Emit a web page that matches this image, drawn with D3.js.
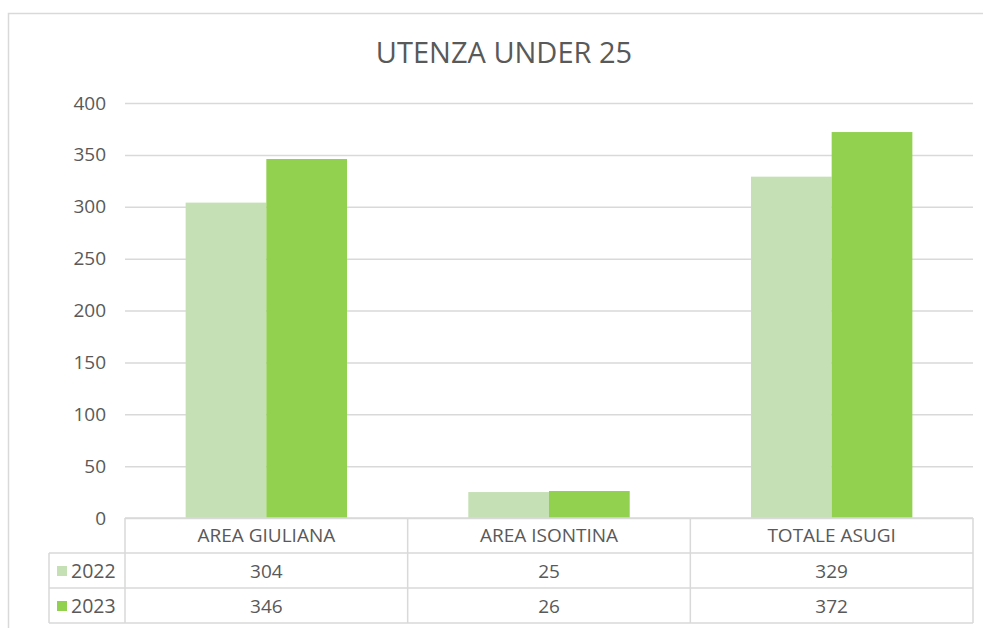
<!DOCTYPE html>
<html><head><meta charset="utf-8">
<script src="https://cdn.jsdelivr.net/npm/d3@7"></script>
<style>
html,body{margin:0;padding:0;background:#fff;}
svg{display:block;font-family:"Open Sans",sans-serif;}
</style></head>
<body><svg id="c" width="983" height="628"></svg>
<script>
const title = "UTENZA UNDER 25";
const categories = ["AREA GIULIANA", "AREA ISONTINA", "TOTALE ASUGI"];
const seriesNames = ["2022", "2023"];
const values2022 = [304, 25, 329];
const values2023 = [346, 26, 372];
const yTicks = [0, 50, 100, 150, 200, 250, 300, 350, 400];
const colors = ["#c5e0b4", "#92d050"];

(function () {
const series = [values2022, values2023];
const svg = d3.select("#c");
const textColor = "#595959";
const lineColor = "#d9d9d9";

const plotLeft = 125, plotRight = 973, plotTop = 103, zeroY = 518;
const y = d3.scaleLinear().domain([0, 400]).range([zeroY, plotTop]);
const x = d3.scaleBand().domain(categories).range([plotLeft, plotRight]).paddingInner(0.429).paddingOuter(0.2145);
const xs = d3.scaleBand().domain(seriesNames).range([0, x.bandwidth()]);

// outer border
svg.append("rect").attr("x", 8.5).attr("y", 13.5).attr("width", 1000).attr("height", 700)
  .attr("fill", "none").attr("stroke", lineColor).attr("stroke-width", 1.5);

// title
svg.append("text").attr("x", 504).attr("y", 63).attr("text-anchor", "middle")
  .attr("font-size", 29).attr("fill", textColor).text(title);

// y axis with gridlines
const yAxis = d3.axisLeft(y).tickValues(yTicks).tickSize(-(plotRight - plotLeft)).tickPadding(19);
const ga = svg.append("g").attr("transform", `translate(${plotLeft},0)`).call(yAxis);
ga.select(".domain").remove();
ga.selectAll(".tick line").attr("stroke", lineColor).attr("stroke-width", 1.5);
ga.selectAll(".tick text").attr("fill", textColor).attr("font-size", 19)
  .attr("font-family", "'Open Sans',sans-serif");

// bars
const groups = svg.append("g").selectAll("g").data(categories).join("g")
  .attr("transform", d => `translate(${x(d)},0)`);
groups.selectAll("rect").data((d, i) => seriesNames.map((s, j) => ({s, v: series[j][i], j})))
  .join("rect")
  .attr("x", d => xs(d.s)).attr("width", xs.bandwidth())
  .attr("y", d => y(d.v)).attr("height", d => y(0) - y(d.v))
  .attr("fill", d => colors[d.j]);

// data table
const rowH = 35;
const tableLeft = 49;
const rows = [zeroY, zeroY + rowH, zeroY + 2 * rowH, zeroY + 3 * rowH];
const tg = svg.append("g").attr("stroke", lineColor).attr("stroke-width", 1.5);
tg.append("line").attr("x1", plotLeft).attr("x2", plotRight).attr("y1", rows[0]).attr("y2", rows[0]);
for (let k = 1; k < 4; k++) {
  tg.append("line").attr("x1", tableLeft).attr("x2", plotRight).attr("y1", rows[k]).attr("y2", rows[k]);
}
tg.append("line").attr("x1", tableLeft).attr("x2", tableLeft).attr("y1", rows[1]).attr("y2", rows[3]);
const vx = [plotLeft, ...categories.slice(1).map(c => x(c) - x.step() * x.paddingInner() / 2), plotRight];
vx.forEach(v => tg.append("line").attr("x1", v).attr("x2", v).attr("y1", rows[0]).attr("y2", rows[3]));

// header labels
svg.append("g").selectAll("text").data(categories).join("text")
  .attr("x", d => x(d) + x.bandwidth() / 2).attr("y", rows[0] + 24)
  .attr("text-anchor", "middle").attr("font-size", 19).attr("fill", textColor).text(d => d);

// value rows
seriesNames.forEach((s, j) => {
  const ry = rows[j + 1];
  svg.append("rect").attr("x", 57).attr("y", ry + 13).attr("width", 10).attr("height", 10).attr("fill", colors[j]);
  svg.append("text").attr("x", 71).attr("y", ry + 25).attr("font-size", 19.5).attr("fill", textColor).text(s);
  svg.append("g").selectAll("text").data(categories).join("text")
    .attr("x", d => x(d) + x.bandwidth() / 2).attr("y", ry + 25)
    .attr("text-anchor", "middle").attr("font-size", 19).attr("fill", textColor)
    .text((d, i) => series[j][i]);
});
})();
</script></body></html>
